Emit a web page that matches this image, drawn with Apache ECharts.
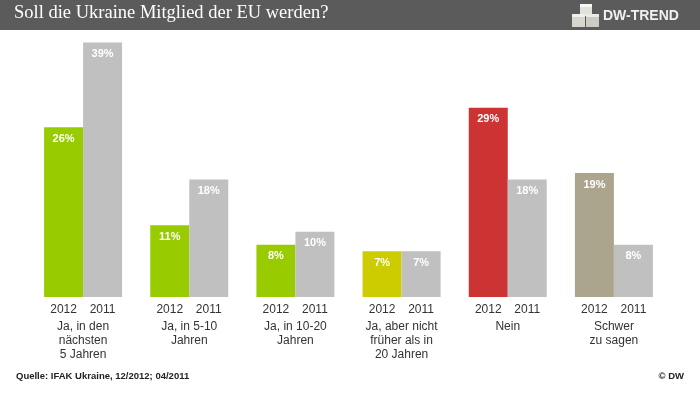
<!DOCTYPE html>
<html><head><meta charset="utf-8">
<script src="https://cdn.jsdelivr.net/npm/echarts@6/dist/echarts.min.js"></script>
<style>html,body{margin:0;padding:0;background:#fff}#c{width:700px;height:394px}</style>
</head><body><div id="c"></div>
<script>
const categories = ['Ja, in den\nnächsten\n5 Jahren', 'Ja, in 5-10\nJahren', 'Ja, in 10-20\nJahren', 'Ja, aber nicht\nfrüher als in\n20 Jahren', 'Nein', 'Schwer\nzu sagen'];
const yearLabels = ['2012', '2011'];
const values2012 = [26, 11, 8, 7, 29, 19];
const values2011 = [39, 18, 10, 7, 18, 8];
const colors2012 = ['#99cc00', '#99cc00', '#99cc00', '#cccc00', '#cc3333', '#aca58e'];
const color2011 = '#c0c0c0';

const chart = echarts.init(document.getElementById('c'), null, {renderer: 'canvas'});
const FONT = 'Liberation Sans, Arial, sans-serif';

function fmtCat(v) {
  const lines = v.split('\n').map(l => '{n|' + l + '}').join('\n');
  return '{y|' + yearLabels[0] + '}{y|' + yearLabels[1] + '}\n' + lines;
}
const valLabel = {show: true, position: 'insideTop', distance: 6, color: '#fff', fontWeight: 'bold', fontSize: 11, fontFamily: FONT, formatter: p => p.value + '%'};

function cube(x, y, s, front, top) {
  return [
    {type: 'rect', shape: {x: x, y: y, width: s, height: s}, style: {fill: front}, z: 20},
    {type: 'rect', shape: {x: x, y: y, width: s, height: 3}, style: {fill: top}, z: 21}
  ];
}

chart.setOption({
  animation: false,
  grid: {left: 30, right: 33, top: 36, bottom: 97, containLabel: false, outerBoundsMode: 'none'},
  xAxis: {
    type: 'category', data: categories,
    axisLine: {show: false}, axisTick: {show: false},
    axisLabel: {
      interval: 0, margin: 3, formatter: fmtCat, color: '#333', fontFamily: FONT,
      rich: {
        y: {width: 39, align: 'center', fontSize: 12, lineHeight: 20, color: '#333', fontFamily: FONT},
        n: {fontSize: 12, lineHeight: 14, color: '#333', align: 'center', fontFamily: FONT}
      }
    }
  },
  yAxis: {type: 'value', min: 0, max: 40, show: false, splitLine: {show: false}},
  series: [
    {type: 'bar', barWidth: 39, barGap: '0%', data: values2012.map((v, i) => ({value: v, itemStyle: {color: colors2012[i]}})), label: valLabel},
    {type: 'bar', barWidth: 39, barGap: '0%', data: values2011, itemStyle: {color: color2011}, label: valLabel}
  ],
  graphic: [
    {type: 'rect', shape: {x: 0, y: 0, width: 700, height: 30}, style: {fill: '#5b5b5b'}, z: 10},
    {type: 'text', x: 14, y: 4, style: {text: 'Soll die Ukraine Mitglied der EU werden?', fill: '#fff', font: '18.5px "Liberation Serif", "Times New Roman", serif'}, z: 11}
  ].concat(
    cube(580, 4, 12, '#e2e2dc', '#f7f7f3'),
    cube(572, 14, 13, '#d6d6cf', '#f0f0ec'),
    cube(586, 14, 13, '#cbcbc3', '#ebebe6'),
    [
      {type: 'text', x: 603, y: 9, style: {text: 'DW-TREND', fill: '#f0f0f0', font: 'bold 14px "Liberation Sans", Arial, sans-serif'}, z: 11},
      {type: 'text', x: 16, y: 371, style: {text: 'Quelle: IFAK Ukraine, 12/2012; 04/2011', fill: '#222', font: 'bold 9.5px "Liberation Sans", Arial, sans-serif'}},
      {type: 'text', right: 16, top: 371, style: {text: '© DW', fill: '#222', font: 'bold 9.5px "Liberation Sans", Arial, sans-serif'}}
    ]
  )
});
</script></body></html>
